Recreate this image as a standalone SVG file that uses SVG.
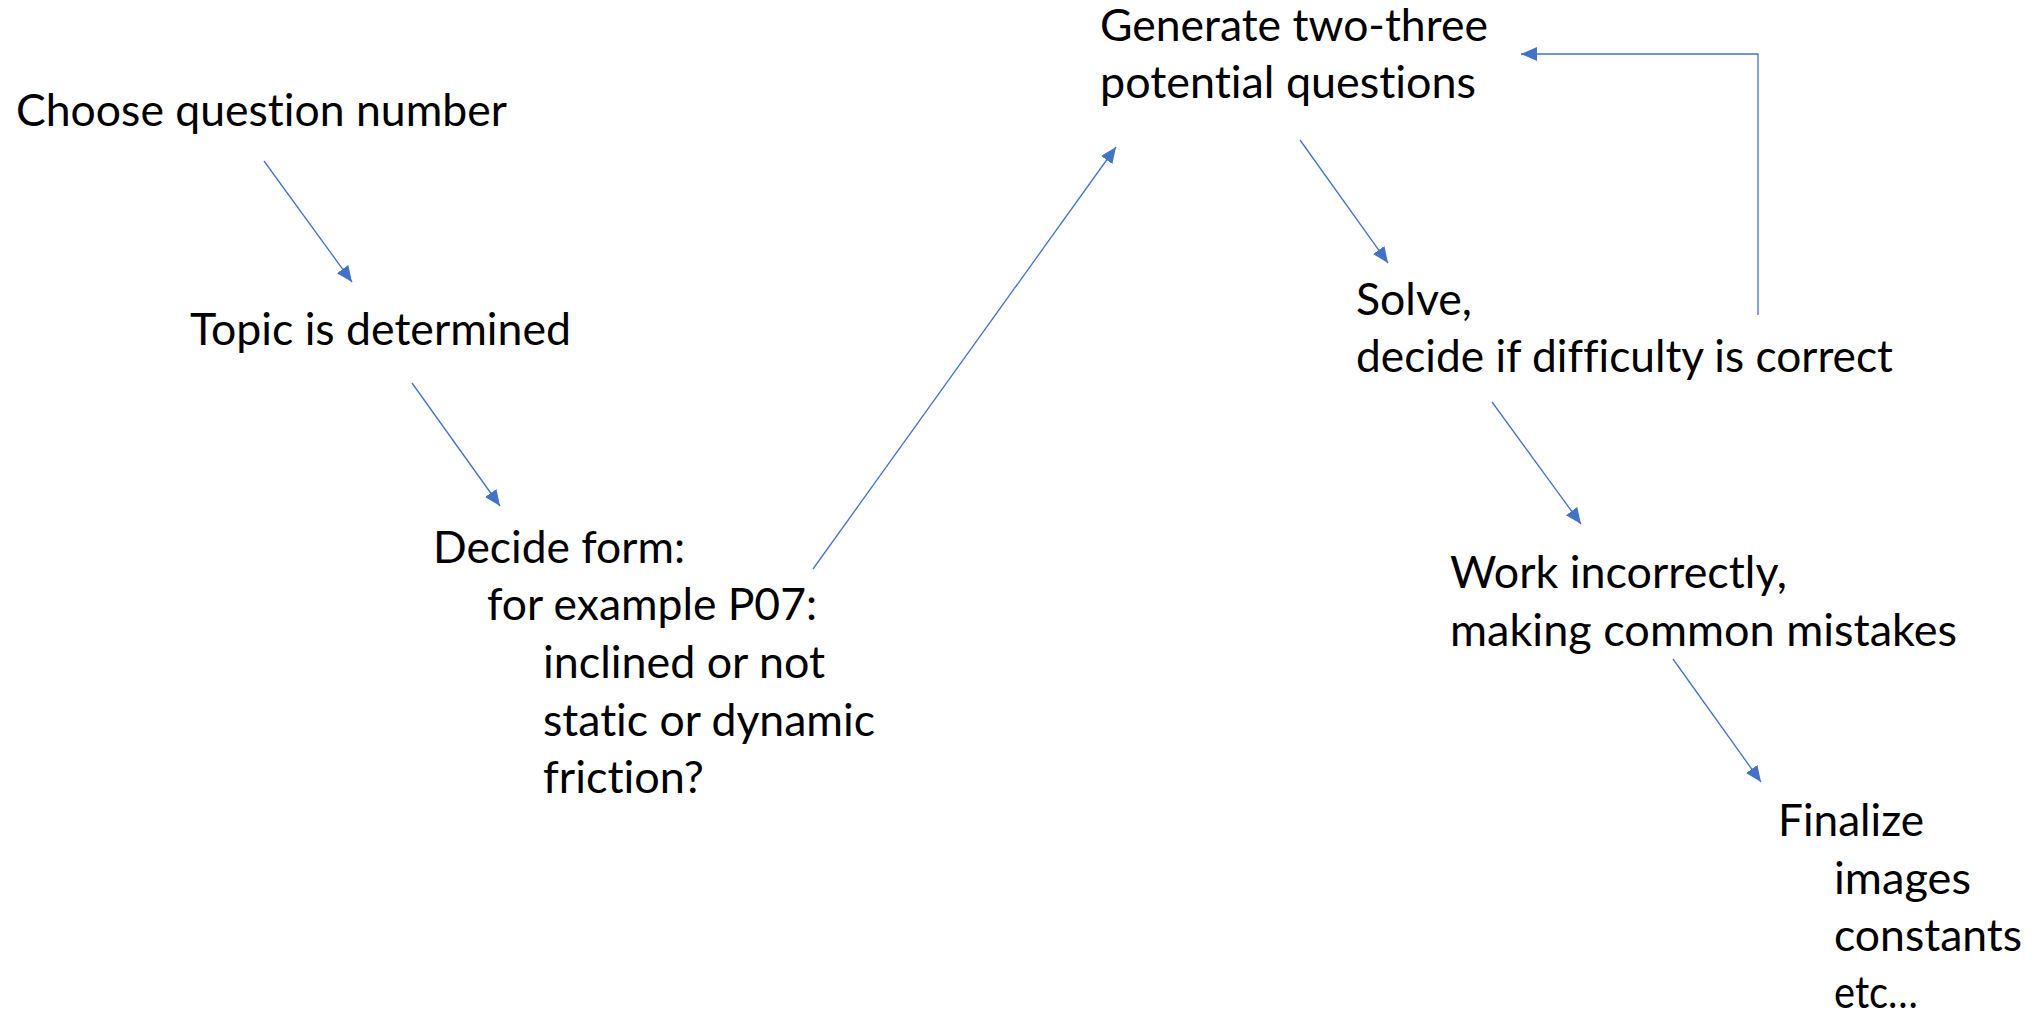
<svg xmlns="http://www.w3.org/2000/svg" width="2034" height="1014" viewBox="0 0 2034 1014">
<style>
.t{font-family:Lato,"Open Sans","Liberation Sans",sans-serif;font-size:44px;fill:#000;font-variant-ligatures:none;font-feature-settings:"liga" 0,"dlig" 0;}
.c{stroke:#4472C4;stroke-width:1.3;fill:none;}
</style>
<defs>
<marker id="ah" markerUnits="userSpaceOnUse" markerWidth="17" markerHeight="15" refX="16" refY="7" orient="auto">
<path d="M0,0 L16,7 L0,14 z" fill="#4472C4"/>
</marker>
</defs>
<rect width="2034" height="1014" fill="#fff"/>
<g id="connectors">
<line class="c" x1="264" y1="161" x2="352" y2="282" marker-end="url(#ah)"/>
<line class="c" x1="412" y1="383" x2="500" y2="506" marker-end="url(#ah)"/>
<line class="c" x1="813" y1="569" x2="1116" y2="147" marker-end="url(#ah)"/>
<line class="c" x1="1300" y1="140" x2="1388" y2="263" marker-end="url(#ah)"/>
<line class="c" x1="1492" y1="402" x2="1581" y2="524" marker-end="url(#ah)"/>
<line class="c" x1="1673" y1="659" x2="1761" y2="782" marker-end="url(#ah)"/>
<polyline class="c" points="1758,315 1758,54 1521,54" marker-end="url(#ah)"/>
</g>
<g id="choose">
<text class="t" x="16" y="126" textLength="491" lengthAdjust="spacingAndGlyphs">Choose question number</text>
</g>
<g id="topic">
<text class="t" x="190" y="345" textLength="381" lengthAdjust="spacingAndGlyphs">Topic is determined</text>
</g>
<g id="decide">
<text class="t" x="433" y="563" textLength="252" lengthAdjust="spacingAndGlyphs">Decide form:</text>
<text class="t" x="487" y="620" textLength="330" lengthAdjust="spacingAndGlyphs">for example P07:</text>
<text class="t" x="543" y="678" textLength="282" lengthAdjust="spacingAndGlyphs">inclined or not</text>
<text class="t" x="543" y="736" textLength="332" lengthAdjust="spacingAndGlyphs">static or dynamic</text>
<text class="t" x="543" y="793" textLength="161" lengthAdjust="spacingAndGlyphs">friction?</text>
</g>
<g id="generate">
<text class="t" x="1100" y="41" textLength="388" lengthAdjust="spacingAndGlyphs">Generate two-three</text>
<text class="t" x="1100" y="98" textLength="376" lengthAdjust="spacingAndGlyphs">potential questions</text>
</g>
<g id="solve">
<text class="t" x="1356" y="315" textLength="116" lengthAdjust="spacingAndGlyphs">Solve,</text>
<text class="t" x="1356" y="372" textLength="537" lengthAdjust="spacingAndGlyphs">decide if difficulty is correct</text>
</g>
<g id="work">
<text class="t" x="1450" y="588" textLength="337" lengthAdjust="spacingAndGlyphs">Work incorrectly,</text>
<text class="t" x="1450" y="646" textLength="507" lengthAdjust="spacingAndGlyphs">making common mistakes</text>
</g>
<g id="finalize">
<text class="t" x="1778" y="836" textLength="146" lengthAdjust="spacingAndGlyphs">Finalize</text>
<text class="t" x="1834" y="894" textLength="137" lengthAdjust="spacingAndGlyphs">images</text>
<text class="t" x="1834" y="951" textLength="188" lengthAdjust="spacingAndGlyphs">constants</text>
<text class="t" x="1834" y="1008" textLength="84" lengthAdjust="spacingAndGlyphs">etc…</text>
</g>
</svg>
